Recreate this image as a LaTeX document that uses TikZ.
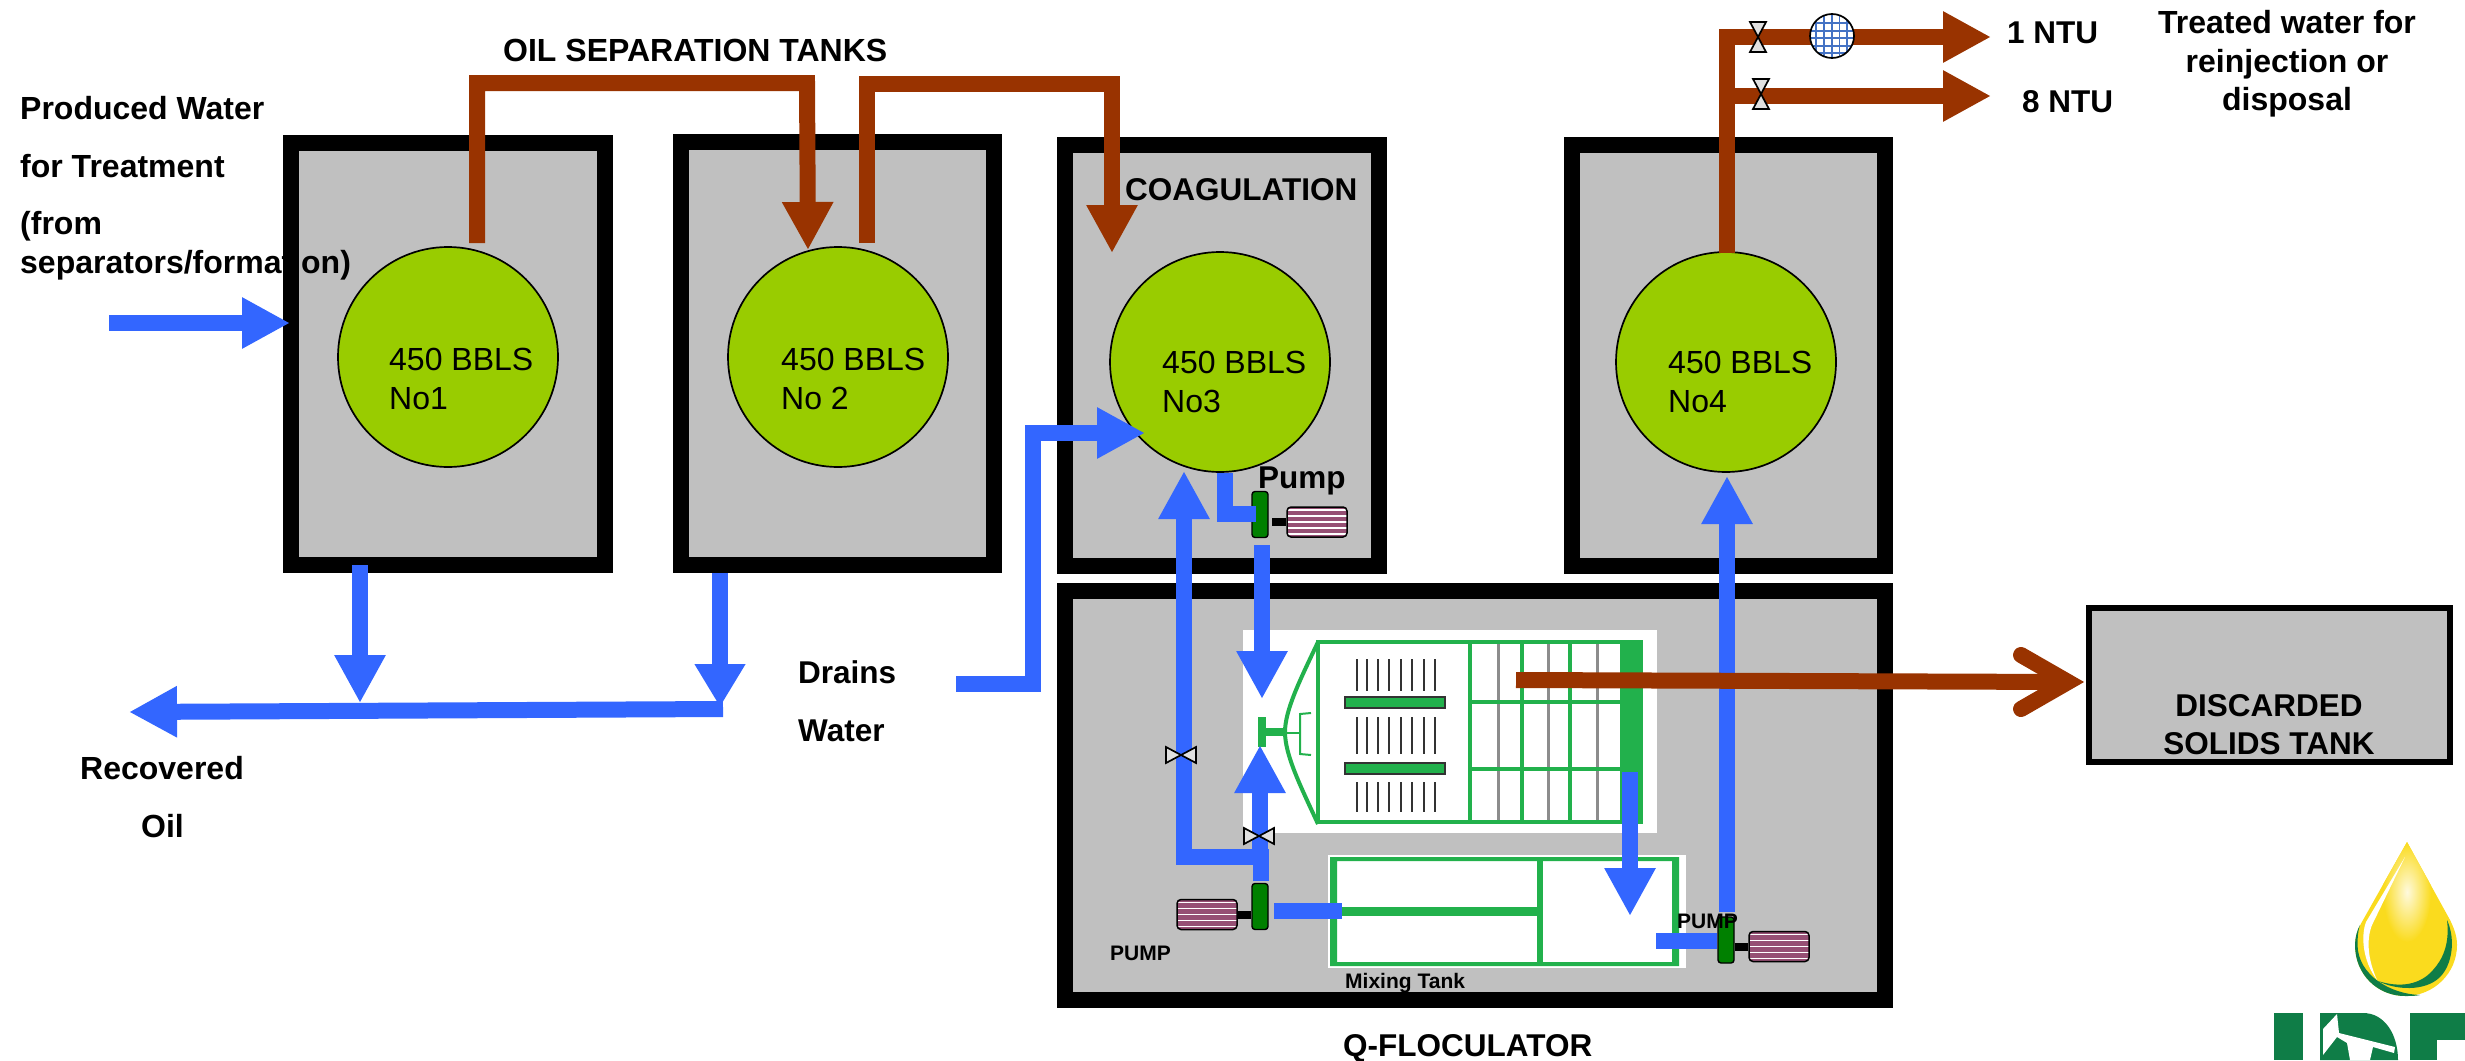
\documentclass[tikz,border=0pt]{standalone}
\usepackage{fontspec}
\setmainfont{Liberation Sans}
\usetikzlibrary{arrows.meta}
\definecolor{tankgrey}{HTML}{C0C0C0}
\definecolor{drumgreen}{HTML}{99CC00}
\definecolor{pipeblue}{HTML}{3366FF}
\definecolor{pipebrown}{HTML}{993300}
\definecolor{flocgreen}{HTML}{22B14C}
\definecolor{pumpgreen}{HTML}{008000}
\definecolor{motorred}{HTML}{964F74}
\definecolor{metergrid}{HTML}{4472C4}
\definecolor{dropyellow}{HTML}{FADB1E}
\definecolor{logogreen}{HTML}{0F7D47}
\newcommand{\droppath}{(2407,842) -- (2363,920) .. controls (2357,930) and (2355,938) .. (2355,945) .. controls (2355,975) and (2378,996) .. (2405,996) .. controls (2434,996) and (2457,973) .. (2457,945) .. controls (2457,936) and (2454,928) .. (2450,920) -- cycle}
\tikzset{
  tankbox/.style={draw=black,fill=tankgrey,line width=16pt,inner sep=0pt},
  drum/.style={circle,draw=black,fill=drumgreen,line width=1.7pt,minimum size=220pt,inner sep=0pt},
  whitebox/.style={fill=white,inner sep=0pt,outer sep=0pt},
  bluepipe/.style={draw=pipeblue,line width=16pt},
  brownpipe/.style={draw=pipebrown,line width=16pt},
  bluearrow/.style={bluepipe,-{Triangle[length=48pt,width=48pt]}},
  brownarrow/.style={brownpipe,-{Triangle[length=48pt,width=48pt]}},
  valve/.style={draw=black,fill=black!12,line width=1.7pt},
  gridgreen/.style={draw=flocgreen,line width=3.6pt},
  gridgrey/.style={draw=black!45,line width=3pt},
  tick/.style={draw=black!80,line width=2pt},
  pumpbody/.style={draw=black,fill=pumpgreen,line width=1.4pt,rounded corners=3pt,minimum width=16pt,minimum height=46pt,inner sep=0pt},
  motorbox/.style={draw=black,fill=motorred,line width=1.5pt,rounded corners=4pt,minimum width=60pt,minimum height=30pt,inner sep=0pt,
    path picture={\foreach \d in {-12,-6,0,6,12}{
      \draw[white,line width=1.8pt] ([yshift=\d pt]path picture bounding box.west) -- ([yshift=\d pt]path picture bounding box.east);}}},
  meter/.style={circle,draw=black,fill=white,line width=1.7pt,minimum size=44pt,inner sep=0pt,
    path picture={\foreach \g in {-16,-8,0,7.5,15}{\draw[metergrid,line width=1.8pt] (\g,-24) -- (\g,24);}
      \foreach \g in {-13,-5,2,10,17}{\draw[metergrid,line width=1.8pt] (-24,\g) -- (24,\g);}}},
  plain/.style={anchor=base west,inner sep=0pt,font=\fontsize{32}{38}\selectfont},
  heading/.style={plain,font=\bfseries\fontsize{31.5}{38}\selectfont},
  bigheading/.style={plain,font=\bfseries\fontsize{32}{38}\selectfont},
  small/.style={plain,font=\bfseries\fontsize{21}{26}\selectfont},
}
\begin{document}
\begin{tikzpicture}[x=1pt,y=-1pt]
\useasboundingbox (0,0) rectangle (2465,1060);

\node[tankbox,minimum width=314pt,minimum height=422pt] at (448,354) (tankA) {};
\node[tankbox,minimum width=313pt,minimum height=423pt] at (837.5,353.5) (tankB) {};
\node[tankbox,minimum width=314pt,minimum height=421pt] at (1222,355.5) (tankC) {};
\node[tankbox,minimum width=313pt,minimum height=421pt] at (1728.5,355.5) (tankD) {};
\node[tankbox,minimum width=820pt,minimum height=409pt] at (1475,795.5) (floc) {};
\node[tankbox,line width=6pt,minimum width=361pt,minimum height=154pt] at (2269,685) (discard) {};

\node[drum] at (448,357) (drumA) {};
\node[drum] at (838,357) (drumB) {};
\node[drum] at (1220,362) (drumC) {};
\node[drum] at (1726,362) (drumD) {};

\node[plain] at (389,370) (bblsA) {450 BBLS};
\node[plain] at (389,409) (noA) {No1};
\node[plain] at (781,370) (bblsB) {450 BBLS};
\node[plain] at (781,409) (noB) {No 2};
\node[plain] at (1162,373) (bblsC) {450 BBLS};
\node[plain] at (1162,412) (noC) {No3};
\node[plain] at (1668,373) (bblsD) {450 BBLS};
\node[plain] at (1668,412) (noD) {No4};

% flocculator
\node[whitebox,minimum width=414pt,minimum height=203pt] at (1450,731.5) (flocbox) {};
\foreach \x in {1498,1548,1597}{\draw[gridgrey] (\x,644) -- (\x,820);}
\draw[gridgreen] (1318,642) rectangle (1641,822);
\fill[flocgreen] (1620,640) rectangle (1643,824);
\draw[gridgreen] (1470,642) -- (1470,822);
\foreach \x in {1522,1570}{\draw[gridgreen] (\x,642) -- (\x,822);}
\foreach \y in {702,769}{\draw[gridgreen] (1470,\y) -- (1620,\y);}
\draw[gridgreen,line width=4pt] (1318,642) .. controls (1300,680) and (1285,710) .. (1285,732) .. controls (1285,755) and (1300,785) .. (1318,824);
\draw[draw=flocgreen,line width=8pt] (1262,717) -- (1262,747);
\draw[draw=flocgreen,line width=8pt] (1262,732) -- (1285,732);
\draw[draw=flocgreen,line width=2pt] (1285,733) -- (1300,733);
\draw[draw=flocgreen,line width=2pt] (1311,713) -- (1300,714) -- (1300,754) -- (1311,755);
\foreach \y in {697,763}{\draw[fill=flocgreen,draw=black!80,line width=1.4pt] (1345,\y) rectangle (1445,\y+11);}
\foreach \x in {1357,1367,1378,1389,1401,1412,1424,1435}{
  \draw[tick] (\x,659) -- (\x,691);
  \draw[tick] (\x,717) -- (\x,754);
  \draw[tick] (\x,782) -- (\x,812);
}

% mixing tank
\node[whitebox,minimum width=358pt,minimum height=113pt] at (1507,911.5) (mixbox) {};
\fill[flocgreen,even odd rule] (1330,857) rectangle (1679,966) (1337,861) rectangle (1672,962);
\draw[draw=flocgreen,line width=6pt] (1540,858) -- (1540,964);
\draw[draw=flocgreen,line width=9pt] (1337,911) -- (1540,911);

% pumps
\node[pumpbody] at (1260,514.5) (pumpA) {};
\node[motorbox] at (1317,522) (motorA) {};
\draw[line width=8pt] (1272,522) -- (motorA.west);
\node[pumpbody] at (1260,906.5) (pumpB) {};
\node[motorbox] at (1207,914.5) (motorB) {};
\draw[line width=8pt] (pumpB.west |- motorB) -- (motorB.east);
\node[pumpbody] at (1726,940) (pumpC) {};
\node[motorbox] at (1779,946.5) (motorC) {};
\draw[line width=8pt] (pumpC.east |- motorC) -- (motorC.west);

% blue pipes
\coordinate (feedIn) at (109,323);
\coordinate (feedOut) at (290,323);
\draw[bluearrow] (feedIn) -- (feedOut);
\coordinate (drainA) at (360,565);
\coordinate (drainB) at (720,573);
\coordinate (oilEnd) at (129,712);
\draw[bluearrow] (drainA) -- (360,703);
\draw[bluepipe,-{Triangle[length=43pt,width=48pt]}] (drainB) -- (720,707);
\draw[bluearrow] (723,709) -- (oilEnd);
\coordinate (drainWater) at (956,684);
\coordinate (drainIn) at (1145,433);
\draw[bluearrow] (drainWater) -- (1033,684) -- (1033,433) -- (drainIn);
\draw[bluepipe] (1224.5,473) -- (1224.5,514) -- (1256,514);
\coordinate (pumpAout) at (1262,545);
\coordinate (flocIn) at (1262,699);
\draw[bluearrow] (pumpAout) -- (flocIn);
\coordinate (pumpBtop) at (1261,881);
\coordinate (drumCin) at (1184,471);
\draw[bluearrow] (pumpBtop) -- (1261,857) -- (1184,857) -- (drumCin);
\coordinate (flocBack) at (1260,745);
\draw[bluearrow] (1260,860) -- (flocBack);
\draw[bluepipe] (1274,911) -- (1342,911);
\coordinate (flocOut) at (1630,772);
\coordinate (mixIn) at (1630,916);
\draw[bluearrow] (flocOut) -- (mixIn);
\draw[bluepipe] (1656,941) -- (1717,941);
\coordinate (pumpCtop) at (1727,912);
\coordinate (drumDin) at (1727,476);
\draw[bluearrow] (pumpCtop) -- (drumDin);

% valves
\foreach \x/\y in {1181/755,1259/836}{
  \filldraw[valve] (\x-15,\y-8) -- (\x+15,\y+8) -- (\x+15,\y-8) -- (\x-15,\y+8) -- cycle;
}

% brown pipes
\coordinate (oilA) at (477,243);
\coordinate (oilB) at (808,250);
\draw[brownarrow] (oilA) -- (477,83) -- (807,83) -- (oilB);
\coordinate (oilC) at (867,243);
\coordinate (oilD) at (1112,253);
\draw[brownarrow] (oilC) -- (867,84) -- (1112,84) -- (oilD);
\coordinate (treatOut) at (1727,253);
\coordinate (ntuA) at (1991,37);
\coordinate (ntuB) at (1991,96);
\draw[brownarrow] (treatOut) -- (1727,37) -- (ntuA);
\draw[brownarrow] (1719,96) -- (ntuB);
\foreach \x/\y in {1758/37,1761/94}{
  \filldraw[valve] (\x-8,\y-15) -- (\x+8,\y-15) -- (\x-8,\y+15) -- (\x+8,\y+15) -- cycle;
}
\node[meter] at (1832,36) (meterA) {};
\coordinate (sludgeIn) at (1516,680);
\coordinate (barbTip) at (2068,682);
\coordinate (barbUp) at (2021,655);
\coordinate (barbDown) at (2021,709);
\draw[brownpipe] (sludgeIn) -- (barbTip);
\draw[brownpipe,line cap=round] (barbUp) -- (barbTip) -- (barbDown);

% labels
\node[bigheading] at (503,61) (titleOil) {OIL SEPARATION TANKS};
\node[bigheading] at (20,119) (feedOne) {Produced Water};
\node[bigheading] at (20,177) (feedTwo) {for Treatment};
\node[bigheading] at (20,234) (feedThree) {(from};
\node[bigheading] at (20,273) (feedFour) {separators/formation)};
\node[bigheading] at (80,779) (oilOne) {Recovered};
\node[bigheading] at (141,837) (oilTwo) {Oil};
\node[heading] at (798,683) (drainsOne) {Drains};
\node[heading] at (798,741) (drainsTwo) {Water};
\node[heading] at (1125,200) (titleCoag) {COAGULATION};
\node[heading] at (1258,488) (pumpLabelA) {Pump};
\node[small] at (1110,960) (pumpLabelB) {PUMP};
\node[small] at (1677,928) (pumpLabelC) {PUMP};
\node[small] at (1345,988) (mixLabel) {Mixing Tank};
\node[heading] at (1343,1056) (titleFloc) {Q-FLOCULATOR};
\node[heading,anchor=base] at (2269,716) (discardOne) {DISCARDED};
\node[heading,anchor=base] at (2269,754) (discardTwo) {SOLIDS TANK};
\node[heading] at (2007,43) (ntuLabelA) {1 NTU};
\node[heading] at (2022,112) (ntuLabelB) {8 NTU};
\node[bigheading,anchor=base] at (2287,33) (treatOne) {Treated water for};
\node[bigheading,anchor=base] at (2287,72) (treatTwo) {reinjection or};
\node[bigheading,anchor=base] at (2287,110) (treatThree) {disposal};

% logo
\fill[dropyellow] \droppath;
\begin{scope}
\clip \droppath;
\shade[inner color=white!85!dropyellow,outer color=dropyellow] (2407,892) ellipse (24 and 50);
\end{scope}
\fill[logogreen] (2360,925) .. controls (2357,930) and (2355,938) .. (2355,945) .. controls (2355,975) and (2378,996) .. (2405,996) .. controls (2410,996) and (2416,996) .. (2420,995) .. controls (2390,994) and (2358,975) .. (2357.5,945) .. controls (2357.5,938) and (2358,930) .. (2360,925) -- cycle;
\fill[logogreen] (2378,981) .. controls (2395,990) and (2425,992) .. (2440,977) .. controls (2452,965) and (2456,940) .. (2447,920) .. controls (2450,945) and (2442,960) .. (2433,970) .. controls (2420,985) and (2400,988) .. (2378,981) -- cycle;
\fill[white] (2405,857) -- (2366,922) .. controls (2361,935) and (2362,960) .. (2377,980) .. controls (2368,960) and (2366,940) .. (2372,925) -- cycle;
\fill[logogreen] (2274,1013) rectangle (2303,1060);
\fill[logogreen] (2320,1013) -- (2363,1013) .. controls (2385,1013) and (2398,1035) .. (2398,1060) -- (2320,1060) -- cycle;
\fill[white] (2323,1029) -- (2337,1014) -- (2339,1033) -- (2395,1047) -- (2394,1053) -- (2373,1047) -- (2370,1060) -- (2350,1060) -- (2347,1043) -- (2337,1037) -- (2323,1055) -- cycle;
\fill[logogreen] (2410,1013) rectangle (2465,1040);
\fill[logogreen] (2410,1040) rectangle (2437,1060);
\end{tikzpicture}
\end{document}
